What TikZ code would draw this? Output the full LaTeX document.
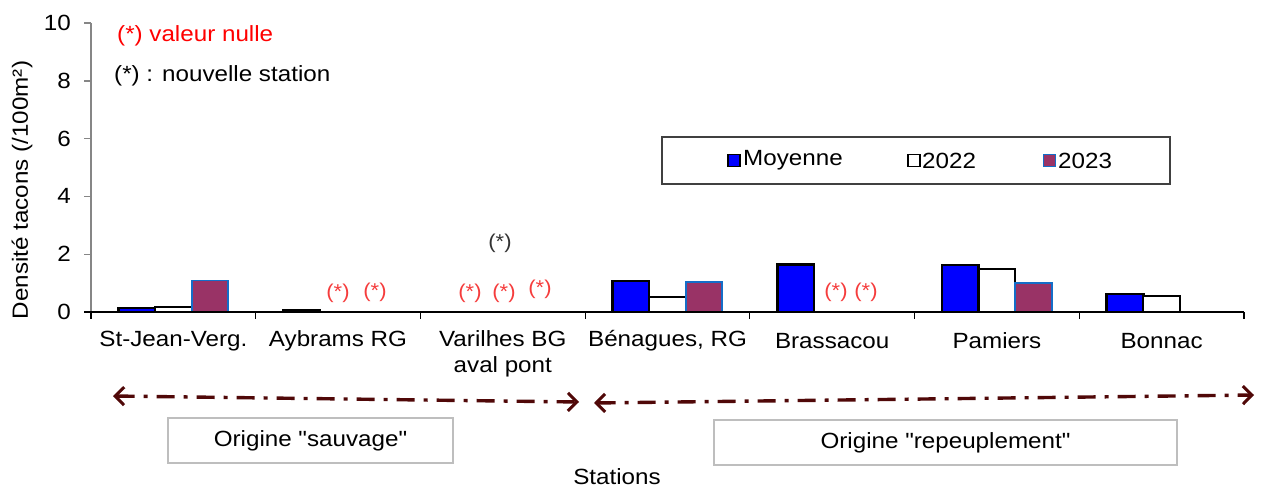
\documentclass[tikz,border=0pt]{standalone}
\usepackage{fontspec}
\setmainfont{Liberation Sans}[FakeStretch=1.1]
\newfontfamily\plainq{Liberation Sans}[FakeStretch=1.1]
\usetikzlibrary{arrows.meta}
\definecolor{mblue}{RGB}{0,0,255}
\definecolor{plum}{RGB}{153,51,102}
\definecolor{plumedge}{RGB}{20,110,200}
\definecolor{axgray}{RGB}{134,134,134}
\definecolor{zerogray}{RGB}{170,170,170}
\definecolor{arrowbrown}{RGB}{80,8,8}
\definecolor{starred}{RGB}{245,60,60}
\definecolor{legframe}{RGB}{64,64,64}
\definecolor{boxgray}{RGB}{190,190,190}
\tikzset{
  txt/.style={inner sep=0pt, font=\fontsize{22}{26}\selectfont},
  startxt/.style={inner sep=0pt, font=\fontsize{20}{24}\selectfont},
  barM/.style={draw=black, line width=2.6pt, fill=mblue},
  barA/.style={draw=black, line width=2pt, fill=white},
  barB/.style={draw=plumedge, line width=1.8pt, fill=plum},
  zeroline/.style={draw=zerogray, line width=1.8pt},
  legbox/.style={draw=legframe, line width=1.2pt, fill=white},
  origbox/.style={draw=boxgray, line width=1.2pt, fill=white, minimum height=45pt, inner sep=0pt, font=\plainq\fontsize{22}{26}\selectfont},
  rangearrow/.style={draw=arrowbrown, line width=3.4pt, dash pattern=on 18pt off 9pt on 4pt off 9pt,
     {Straight Barb[length=9pt,width=18pt,line width=3pt]}-{Straight Barb[length=9pt,width=18pt,line width=3pt]}}
}
\begin{document}
\begin{tikzpicture}[x=1pt,y=-1pt]
\useasboundingbox (0,0) rectangle (1268,487);

% axes
\draw[axgray, line width=1.4pt] (91,23) -- (91,312);
\foreach \k/\lab in {0/0,1/2,2/4,3/6,4/8,5/10}{
  \draw[axgray, line width=1.4pt] (84,{312-57.8*\k}) -- (91,{312-57.8*\k});
  \node[txt, anchor=east] (ytick\k) at (71,{312-57.8*\k}) {\lab};
}
\node[txt, rotate=90] (ylabel) at (22,190) {Densité tacons (/100m²)};

% zero-value markers
\draw[zeroline] (320,311.5) -- (409,311.5);
\draw[zeroline] (443,311.5) -- (573,311.5);
\draw[zeroline] (814,311.5) -- (900,311.5);

% bars: St-Jean-Verg.
\draw[barM] (118.4,312) rectangle (155,308);
\draw[barA] (155,312) rectangle (191.6,307);
\draw[barB] (191.6,312) rectangle (228.2,280.5);
% Aybrams
\draw[barM] (283.1,312) rectangle (319.7,310);
% Benagues
\draw[barM] (612.5,312) rectangle (649.1,281);
\draw[barA] (649.1,312) rectangle (685.7,297);
\draw[barB] (685.7,312) rectangle (722.3,282);
% Brassacou
\draw[barM] (777.2,312) rectangle (813.8,264.5);
% Pamiers
\draw[barM] (941.9,312) rectangle (978.5,265);
\draw[barA] (978.5,312) rectangle (1015.1,269);
\draw[barB] (1015.1,312) rectangle (1051.7,283);
% Bonnac
\draw[barM] (1106.6,312) rectangle (1143.2,294);
\draw[barA] (1143.2,312) rectangle (1179.8,296);

% x axis
\draw[black, line width=1.4pt] (84,312) -- (1244,312);
\foreach \i in {0,...,7}{
  \draw[black, line width=1.2pt] ({91+164.7*\i},312) -- ({91+164.7*\i},319);
}

% category labels
\node[txt] (c1) at (173.4,341) {St-Jean-Verg.};
\node[txt] (c2) at (338,341) {Aybrams RG};
\node[txt, align=center] (c3) at (502.8,354) {Varilhes BG\\aval pont};
\node[txt] (c4) at (667.5,341) {Bénagues, RG};
\node[txt] (c5) at (832.2,341) {Brassacou};
\node[txt] (c6) at (996.9,341) {Pamiers};
\node[txt] (c7) at (1161.6,341) {Bonnac};

% star labels
\node[startxt, text=starred] (s1) at (338,293) {(*)};
\node[startxt, text=starred] (s2) at (375,292) {(*)};
\node[startxt, text=starred] (s3) at (470,293) {(*)};
\node[startxt, text=starred] (s4) at (504,293) {(*)};
\node[startxt, text=starred] (s5) at (540,289) {(*)};
\node[startxt, text=starred] (s6) at (836,292) {(*)};
\node[startxt, text=starred] (s7) at (866,292) {(*)};
\node[startxt, text={black!80}] (s8) at (500,243) {(*)};

% notes
\node[txt, text=red, anchor=west] (note1) at (117,36) {(*) valeur nulle};
\node[txt, anchor=west] (note2) at (114,76) {(*) : nouvelle station};

% legend
\draw[legbox] (662,137) rectangle (1170,184);
\draw[black, line width=1.8pt, fill=mblue] (728,154.5) rectangle (740,166.5);
\node[txt, anchor=west] (lm) at (743,160.5) {Moyenne};
\draw[black, line width=1.5pt, fill=white] (908,154.5) rectangle (920,166.5);
\node[txt, anchor=west] (la) at (922,160.5) {2022};
\draw[plumedge, line width=1.5pt, fill=plum] (1043.5,154.5) rectangle (1055.5,166.5);
\node[txt, anchor=west] (lb) at (1058,160.5) {2023};

% range arrows
\coordinate (a1) at (113,396);
\coordinate (a2) at (579,402);
\coordinate (b1) at (594,403);
\coordinate (b2) at (1254,395);
\draw[rangearrow] (a1) -- (a2);
\draw[rangearrow] (b1) -- (b2);

% origin boxes
\node[origbox, minimum width=285pt] (orig1) at (310.5,440.5) {Origine "sauvage"};
\node[origbox, minimum width=463pt] (orig2) at (945.5,442.5) {Origine "repeuplement"};

\node[txt] (xlabel) at (617,477) {Stations};
\end{tikzpicture}
\end{document}
